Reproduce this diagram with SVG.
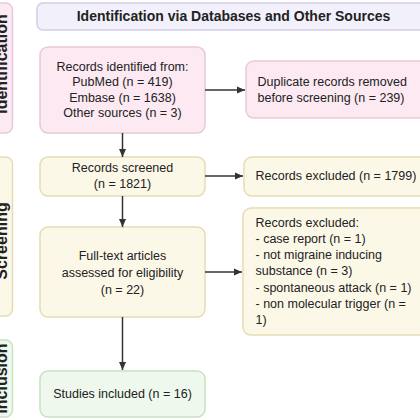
<svg xmlns="http://www.w3.org/2000/svg" width="420" height="420" viewBox="0 0 420 420">
<defs>
<marker id="arr" markerWidth="9" markerHeight="8" refX="8" refY="4" orient="auto" markerUnits="userSpaceOnUse">
<path d="M0,0.5 L8,4 L0,7.5 z" fill="#333"/>
</marker>
<style>
.pink{fill:#fce9f2;stroke:#e9c8d9;stroke-width:1.5}
.cream{fill:#fcf8e8;stroke:#e6dcb4;stroke-width:1.5}
.green{fill:#eef8ec;stroke:#c8e2c2;stroke-width:1.5}
.lav{fill:#f2f0fb;stroke:#d4cde8;stroke-width:1.5}
text{font-family:"Liberation Sans",Arial,sans-serif;fill:#222}
.t{font-size:12.5px}
.c{text-anchor:middle}
.b{font-weight:bold}
.ph{font-size:16px;font-weight:bold;text-anchor:middle}
.conn line{stroke:#333;stroke-width:1.5;marker-end:url(#arr)}
</style>
</defs>
<rect width="420" height="420" fill="#fff"/>

<g id="phase-identification">
<rect class="pink" x="-20" y="3" width="32.5" height="130" rx="7"/>
<text class="ph" transform="translate(6.5,64) rotate(-90)">Identification</text>
</g>
<g id="phase-screening">
<rect class="cream" x="-20" y="157" width="32.5" height="159" rx="7"/>
<text class="ph" transform="translate(7,241) rotate(-90)">Screening</text>
</g>
<g id="phase-inclusion">
<rect class="green" x="-20" y="340" width="32.5" height="77" rx="7"/>
<text class="ph" transform="translate(7,378.5) rotate(-90)">Inclusion</text>
</g>

<g id="header">
<rect class="lav" x="37" y="3" width="393" height="27" rx="6"/>
<text class="b c" x="233.5" y="20.5" font-size="14">Identification via Databases and Other Sources</text>
</g>

<g id="identified">
<rect class="pink" x="40" y="47" width="165" height="86" rx="8"/>
<text class="t c" x="122.5" y="70.5">Records identified from:</text>
<text class="t c" x="122.5" y="86">PubMed (n = 419)</text>
<text class="t c" x="122.5" y="101.5">Embase (n = 1638)</text>
<text class="t c" x="122.5" y="117">Other sources (n = 3)</text>
</g>

<g id="duplicates">
<rect class="pink" x="246" y="61" width="190" height="57" rx="8"/>
<text class="t" x="257.5" y="85.5">Duplicate records removed</text>
<text class="t" x="257.5" y="101.5">before screening (n = 239)</text>
</g>

<g id="screened">
<rect class="cream" x="40" y="157" width="165" height="39" rx="8"/>
<text class="t c" x="122.5" y="171.5">Records screened</text>
<text class="t c" x="122.5" y="187.5">(n = 1821)</text>
</g>

<g id="excluded1">
<rect class="cream" x="244" y="157" width="190" height="39" rx="8"/>
<text class="t" x="255.5" y="180">Records excluded (n = 1799)</text>
</g>

<g id="fulltext">
<rect class="cream" x="40" y="227" width="165" height="90" rx="8"/>
<text class="t c" x="122.5" y="259.5">Full-text articles</text>
<text class="t c" x="122.5" y="276.5">assessed for eligibility</text>
<text class="t c" x="122.5" y="293.5">(n = 22)</text>
</g>

<g id="excluded2">
<rect class="cream" x="243" y="208" width="190" height="127" rx="8"/>
<text class="t" x="255.5" y="226.5">Records excluded:</text>
<text class="t" x="255.5" y="242.8">- case report (n = 1)</text>
<text class="t" x="255.5" y="259.1">- not migraine inducing</text>
<text class="t" x="255.5" y="275.4">substance (n = 3)</text>
<text class="t" x="255.5" y="291.7">- spontaneous attack (n = 1)</text>
<text class="t" x="255.5" y="308">- non molecular trigger (n =</text>
<text class="t" x="255.5" y="324.3">1)</text>
</g>

<g id="included">
<rect class="green" x="40" y="371" width="165" height="46" rx="8"/>
<text class="t c" x="122.5" y="397.5">Studies included (n = 16)</text>
</g>

<g id="connectors" class="conn">
<line x1="122.5" y1="133" x2="122.5" y2="157"/>
<line x1="122.5" y1="196" x2="122.5" y2="227"/>
<line x1="122.5" y1="317" x2="122.5" y2="370"/>
<line x1="205" y1="90" x2="245" y2="90"/>
<line x1="205" y1="176" x2="243" y2="176"/>
<line x1="205" y1="272" x2="242" y2="272"/>
</g>
</svg>
